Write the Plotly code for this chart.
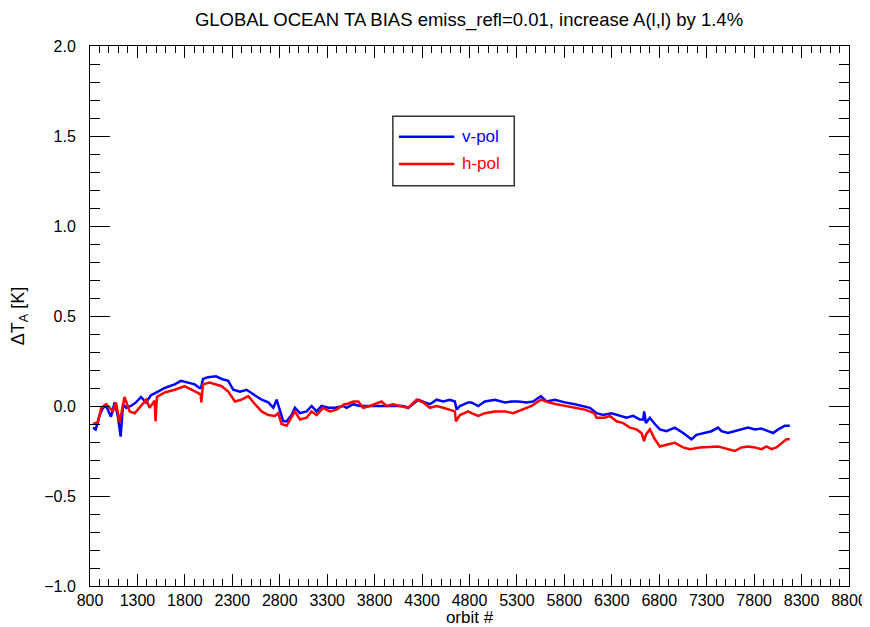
import plotly.graph_objects as go

# orbit numbers / bias values
v_orbit = [832, 860, 902, 937, 970, 1021, 1060, 1095, 1123, 1148, 1181, 1232, 1285, 1337, 1390,
           1443, 1517, 1587, 1692, 1759, 1833, 1903, 1956, 1970, 1991, 2043, 2128, 2188, 2257,
           2310, 2381, 2451, 2521, 2609, 2679, 2732, 2767, 2802, 2837, 2872, 2925, 2960, 3013,
           3083, 3136, 3188, 3241, 3311, 3382, 3469, 3504, 3575, 3645, 3715, 3786, 3891, 3996,
           4101, 4154, 4260, 4330, 4383, 4453, 4523, 4593, 4646, 4664, 4699, 4786, 4821, 4892,
           4962, 5068, 5173, 5243, 5314, 5401, 5471, 5552, 5612, 5700, 5805, 5911, 5998, 6069,
           6139, 6209, 6297, 6385, 6455, 6525, 6596, 6631, 6641, 6659, 6701, 6754, 6806, 6876,
           6964, 7052, 7140, 7192, 7280, 7350, 7420, 7456, 7525, 7596, 7666, 7736, 7807, 7877,
           7947, 8000, 8053, 8123, 8176]
v_bias = [-0.12, -0.13, -0.05, -0.01, 0.0, -0.06, 0.02, -0.06, -0.17, 0.01, -0.01, 0.0, 0.02, 0.05,
          0.02, 0.06, 0.08, 0.10, 0.12, 0.14, 0.13, 0.12, 0.10, 0.10, 0.15, 0.16, 0.165, 0.15,
          0.14, 0.09, 0.08, 0.09, 0.065, 0.035, 0.02, -0.01, 0.035, -0.03, -0.085, -0.085, -0.05,
          -0.01, -0.04, -0.03, 0.0, -0.03, 0.0, -0.01, -0.01, 0.0, -0.01, 0.01, 0.0, 0.0, 0.0,
          0.0, 0.0, 0.0, -0.01, 0.035, 0.02, 0.01, 0.035, 0.025, 0.035, 0.025, -0.02, 0.0, 0.02,
          0.02, 0.0, 0.025, 0.035, 0.02, 0.025, 0.025, 0.02, 0.025, 0.055, 0.025, 0.035, 0.02,
          0.01, 0.0, -0.01, -0.04, -0.05, -0.04, -0.055, -0.065, -0.055, -0.075, -0.075, -0.03,
          -0.095, -0.065, -0.10, -0.13, -0.14, -0.12, -0.15, -0.185, -0.16, -0.15, -0.14, -0.12,
          -0.14, -0.15, -0.14, -0.13, -0.12, -0.13, -0.125, -0.14, -0.15, -0.13, -0.11, -0.11]

h_orbit = [832, 884, 919, 970, 1008, 1042, 1074, 1112, 1164, 1218, 1271, 1340, 1393, 1428, 1481,
           1491, 1505, 1587, 1692, 1797, 1903, 1966, 1973, 1991, 2061, 2131, 2188, 2257, 2328,
           2398, 2468, 2539, 2609, 2679, 2749, 2784, 2819, 2872, 2925, 2960, 3013, 3083, 3136,
           3188, 3258, 3329, 3399, 3480, 3504, 3575, 3628, 3680, 3751, 3803, 3873, 3926, 3996,
           4067, 4154, 4242, 4312, 4383, 4453, 4523, 4593, 4646, 4657, 4699, 4786, 4821, 4892,
           4962, 5068, 5173, 5261, 5349, 5454, 5552, 5630, 5717, 5805, 5911, 6016, 6114, 6139,
           6227, 6279, 6350, 6420, 6490, 6560, 6613, 6641, 6659, 6701, 6754, 6806, 6876, 6964,
           7052, 7122, 7228, 7333, 7420, 7456, 7525, 7596, 7666, 7736, 7807, 7877, 7930, 7982,
           8035, 8088, 8141, 8176]
h_bias = [-0.10, -0.09, -0.01, 0.01, -0.01, -0.03, 0.02, -0.09, 0.05, -0.03, -0.04, 0.0, 0.035,
          -0.01, 0.03, -0.085, 0.05, 0.075, 0.09, 0.11, 0.08, 0.065, 0.02, 0.12, 0.13, 0.12,
          0.11, 0.08, 0.025, 0.035, 0.055, 0.01, -0.03, -0.05, -0.055, -0.04, -0.10, -0.11,
          -0.065, -0.03, -0.075, -0.065, -0.03, -0.05, -0.01, -0.03, -0.02, 0.01, 0.01, 0.025,
          0.025, -0.01, 0.0, 0.01, 0.025, 0.0, 0.01, 0.0, -0.01, 0.035, 0.02, -0.01, 0.0, -0.01,
          -0.02, -0.03, -0.085, -0.05, -0.03, -0.04, -0.055, -0.04, -0.03, -0.03, -0.04, -0.02,
          0.0, 0.035, 0.02, 0.01, 0.0, -0.01, -0.02, -0.04, -0.065, -0.065, -0.055, -0.085,
          -0.095, -0.12, -0.13, -0.15, -0.195, -0.16, -0.13, -0.185, -0.225, -0.215, -0.205,
          -0.23, -0.24, -0.23, -0.225, -0.225, -0.23, -0.24, -0.25, -0.23, -0.225, -0.23, -0.24,
          -0.225, -0.24, -0.23, -0.205, -0.185, -0.185]

FONT = "Liberation Sans, Arial, sans-serif"

fig = go.Figure()
fig.add_trace(go.Scatter(x=v_orbit, y=v_bias, mode="lines", name="v-pol",
                         line={"color": "#0000FF", "width": 2.5}))
fig.add_trace(go.Scatter(x=h_orbit, y=h_bias, mode="lines", name="h-pol",
                         line={"color": "#FF0000", "width": 2.5}))

axis_common = dict(
    showline=True, linecolor="black", linewidth=1, mirror="allticks",
    ticks="inside", tickcolor="black", tickwidth=1,
    showgrid=False, zeroline=False, automargin=False,
    tickfont={"size": 16, "color": "black", "family": FONT},
)
fig.update_xaxes(
    range=[800, 8800], tick0=800, dtick=500, ticklen=12,
    minor={"dtick": 100, "ticks": "inside", "ticklen": 7, "tickcolor": "black", "showgrid": False},
    title={"text": "orbit #", "font": {"size": 17, "family": FONT}, "standoff": 7},
    ticklabelstandoff=0,
    **axis_common,
)
fig.update_yaxes(
    range=[-1.0, 2.0], tick0=0, dtick=0.5, tickformat=".1f", ticklen=20,
    minor={"dtick": 0.1, "ticks": "inside", "ticklen": 10, "tickcolor": "black", "showgrid": False},
    title={"text": "ΔT<sub>A</sub> [K]", "font": {"size": 18, "family": FONT}, "standoff": 15},
    ticklabelstandoff=10,
    **axis_common,
)

# legend box drawn like the original (long line samples, coloured labels)
fig.add_shape(type="rect", xref="paper", yref="paper", x0=0.399, x1=0.559, y0=0.741, y1=0.870,
              line={"color": "#333333", "width": 1.5}, fillcolor="white")
for yy, color, label in [(0.832, "#0000FF", "v-pol"), (0.7815, "#FF0000", "h-pol")]:
    fig.add_shape(type="line", xref="paper", yref="paper", x0=0.407, x1=0.480, y0=yy, y1=yy,
                  line={"color": color, "width": 2.5})
    fig.add_annotation(xref="paper", yref="paper", x=0.487, y=yy, text=label, showarrow=False,
                       xanchor="left", yanchor="middle", font={"size": 17, "color": color, "family": FONT})

# page body adds an 8px margin, so the figure is 8px smaller than the window
fig.update_layout(
    width=862, height=619,
    title={"text": "GLOBAL OCEAN TA BIAS emiss_refl=0.01, increase A(l,l) by 1.4%",
           "x": 0.5348, "xanchor": "center", "y": 0.981, "yanchor": "middle",
           "automargin": False,
           "font": {"size": 18.5, "color": "black", "family": FONT}},
    paper_bgcolor="white", plot_bgcolor="white",
    margin={"l": 82, "r": 21, "t": 38, "b": 41, "autoexpand": False},
    showlegend=False,
    font={"family": FONT, "color": "black"},
)

fig.write_html("out.html")
